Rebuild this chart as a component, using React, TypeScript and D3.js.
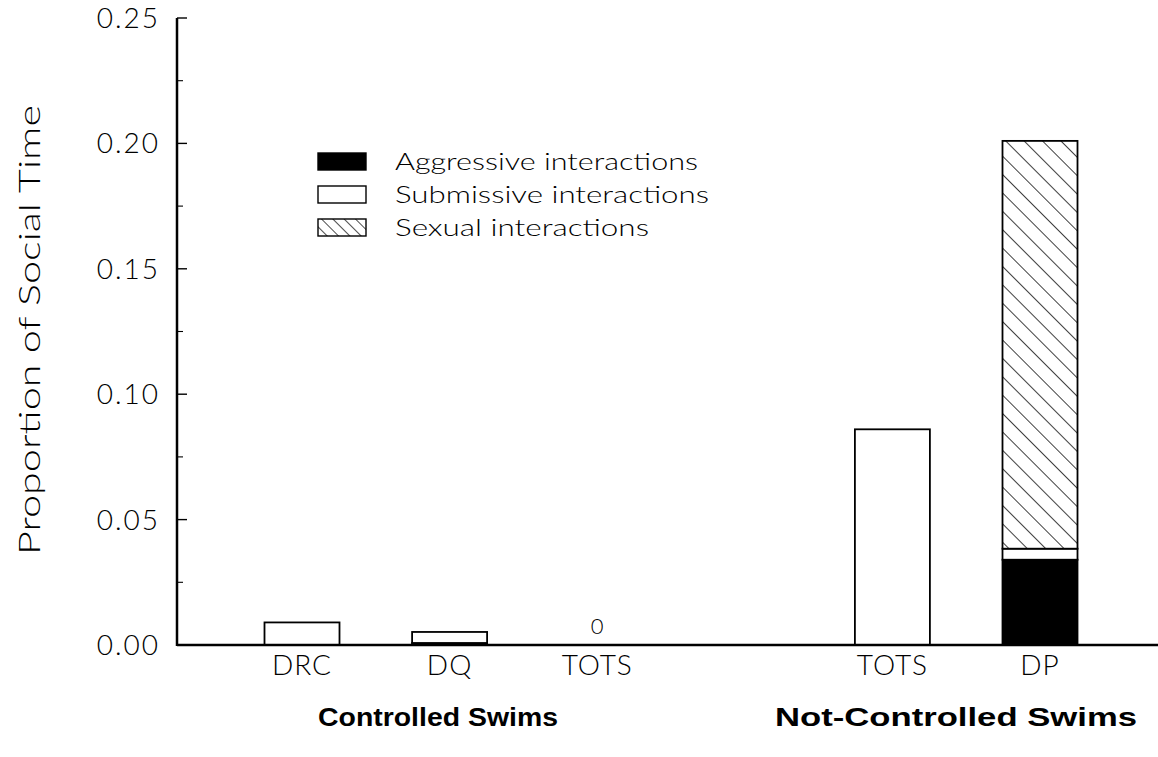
import React from "react";
import * as d3 from "d3";

const categories = ["DRC", "DQ", "TOTS", "", "TOTS ", "DP"];
const tickLabels = ["DRC", "DQ", "TOTS", "", "TOTS", "DP"];
const aggressive = [0, 0.0008, 0, null, 0, 0.034];
const submissive = [0.009, 0.0044, 0, null, 0.086, 0.0044];
const sexual = [0, 0, 0, null, 0, 0.1626];
const zeroLabels = ["", "", "0", "", "", ""];
const yTicks = [0, 0.05, 0.1, 0.15, 0.2, 0.25];
const yMinorTicks = [0.025, 0.075, 0.125, 0.175, 0.225];
const groupLabels = ["Controlled Swims", "Not-Controlled Swims"];
const legendLabels = ["Aggressive interactions", "Submissive interactions", "Sexual interactions"];

export default function App() {
  const W = 1158, H = 757;
  const axisX = 177;
  const y = d3.scaleLinear().domain([0, 0.25]).range([645, 18]);
  const x = d3.scalePoint<string>().domain(categories).range([302, 1040]);
  const bw = 75;
  const font = "Lato, 'DejaVu Sans', sans-serif";
  const fw = 300;
  const fill = ["#000", "#fff", "url(#hatch)"];
  const series = [aggressive, submissive, sexual];

  return (
    <svg width={W} height={H} style={{ display: "block", position: "absolute", left: 0, top: 0 }}>
      <defs>
        <pattern id="hatch" width="13" height="13" patternUnits="userSpaceOnUse" patternTransform="rotate(-45)">
          <rect width="13" height="13" fill="#fff" />
          <line x1="0" y1="0" x2="0" y2="13" stroke="#000" strokeWidth="1.5" />
        </pattern>
        <pattern id="hatchS" width="8" height="8" patternUnits="userSpaceOnUse" patternTransform="rotate(-45)">
          <rect width="8" height="8" fill="#fff" />
          <line x1="0" y1="0" x2="0" y2="8" stroke="#000" strokeWidth="1.4" />
        </pattern>
      </defs>
      <rect width={W} height={H} fill="#fff" />

      {/* bars */}
      {categories.map((c, i) => {
        if (aggressive[i] === null) return null;
        let base = 0;
        const xc = x(c)!;
        return (
          <g key={c}>
            {series.map((s, k) => {
              const v = s[i] as number;
              if (!v) return null;
              const y0 = y(base), y1 = y(base + v);
              base += v;
              return (
                <rect key={k} x={xc - bw / 2} y={y1} width={bw} height={y0 - y1}
                  fill={fill[k]} stroke="#000" strokeWidth={1.8} />
              );
            })}
            {zeroLabels[i] && (
              <text x={xc} y={y(0) - 11} textAnchor="middle" fontFamily={font} fontWeight={fw} fontSize={22}>{zeroLabels[i]}</text>
            )}
            <text x={xc} y={675} textAnchor="middle" fontFamily={font} fontWeight={fw} fontSize={28} letterSpacing={1}>{tickLabels[i]}</text>
          </g>
        );
      })}

      {/* axes */}
      <line x1={axisX} y1={y(0.25)} x2={axisX} y2={y(0) + 1} stroke="#000" strokeWidth={2.5} />
      <line x1={axisX} y1={y(0)} x2={W} y2={y(0)} stroke="#000" strokeWidth={2.5} />
      {yTicks.map((t) => (
        <g key={t}>
          <line x1={axisX} x2={axisX + 10} y1={y(t)} y2={y(t)} stroke="#000" strokeWidth={1.4} />
          <text x={160} y={y(t) + 10} textAnchor="end" fontFamily={font} fontWeight={fw} fontSize={28} letterSpacing={2}>{t.toFixed(2)}</text>
        </g>
      ))}
      {yMinorTicks.map((t) => (
        <line key={t} x1={axisX} x2={axisX + 6} y1={y(t)} y2={y(t)} stroke="#000" strokeWidth={1.1} />
      ))}
      <text transform="translate(40,330) rotate(-90)" textAnchor="middle" fontFamily={font} fontWeight={fw} fontSize={29} textLength={450} lengthAdjust="spacingAndGlyphs">Proportion of Social Time</text>

      {/* group labels */}
      <text x={438} y={726} textAnchor="middle" fontFamily="'Liberation Sans', Arial, sans-serif" fontWeight={700} fontSize={26} textLength={240} lengthAdjust="spacingAndGlyphs">{groupLabels[0]}</text>
      <text x={956} y={726} textAnchor="middle" fontFamily="'Liberation Sans', Arial, sans-serif" fontWeight={700} fontSize={26} textLength={362} lengthAdjust="spacingAndGlyphs">{groupLabels[1]}</text>

      {/* legend */}
      {legendLabels.map((l, i) => {
        const ly = 153 + i * 33;
        return (
          <g key={l}>
            <rect x={318} y={ly} width={48} height={17} fill={i === 0 ? "#000" : i === 1 ? "#fff" : "url(#hatchS)"} stroke="#000" strokeWidth={1.4} />
            <text x={395} y={ly + 17} fontFamily={font} fontWeight={fw} fontSize={23} textLength={i === 0 ? 303 : i === 1 ? 314 : 254} lengthAdjust="spacingAndGlyphs">{l}</text>
          </g>
        );
      })}
    </svg>
  );
}
